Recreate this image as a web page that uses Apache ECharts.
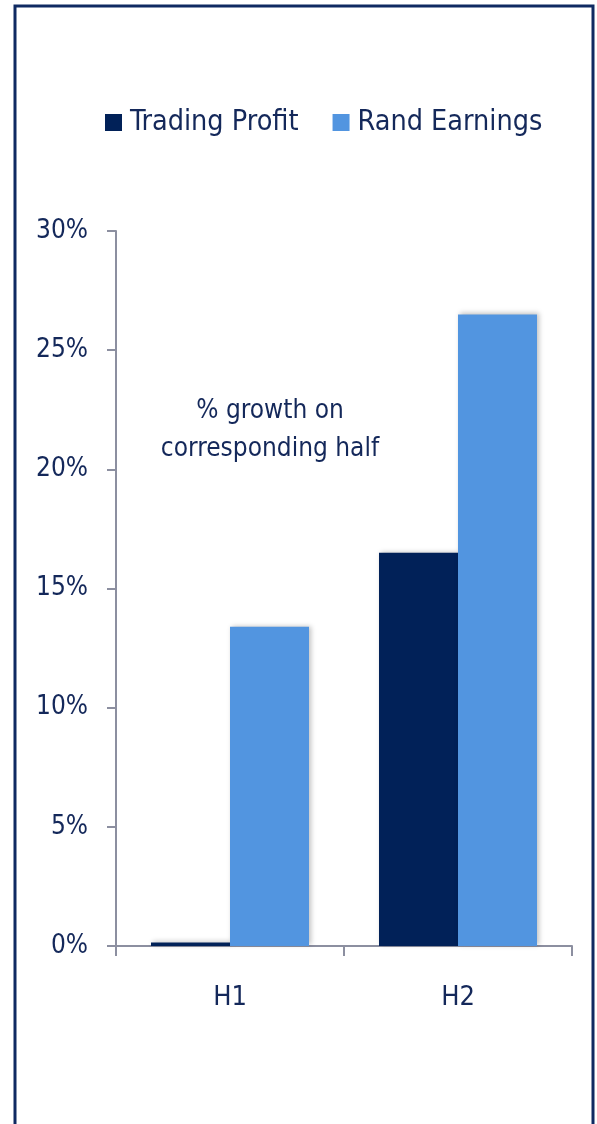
<!DOCTYPE html>
<html>
<head>
<meta charset="utf-8">
<script src="https://cdn.jsdelivr.net/npm/echarts@6/dist/echarts.min.js"></script>
<style>
  html, body { margin: 0; padding: 0; background: #fff; }
  #chart { width: 597px; height: 1124px; }
</style>
</head>
<body>
<div id="chart"></div>
<script>
const categories = ['H1', 'H2'];
const tradingProfit = [0.15, 16.5];
const randEarnings = [13.4, 26.5];
const yTicks = [0, 5, 10, 15, 20, 25, 30];

const navy = '#14285a';
const font = '"DejaVu Sans Condensed", "Liberation Sans Narrow", sans-serif';

const myChart = echarts.init(document.getElementById('chart'));
const barShadow = {
  shadowBlur: 5,
  shadowColor: 'rgba(0, 0, 0, 0.25)',
  shadowOffsetX: 2,
  shadowOffsetY: -1
};

const option = {
  backgroundColor: '#fff',
  textStyle: {fontFamily: font, color: navy},
  graphic: [{
    type: 'rect',
    shape: {x: 15, y: 6, width: 578, height: 1140},
    style: {fill: 'none', stroke: '#0f2a62', lineWidth: 3},
    silent: true
  }, {
    type: 'text',
    x: 270,
    y: 392,
    style: {
      text: '% growth on\ncorresponding half',
      fill: navy,
      font: '26px ' + font,
      align: 'center',
      lineHeight: 38
    }
  }],
  legend: {
    left: 100,
    top: 103,
    itemWidth: 17,
    itemHeight: 17,
    itemGap: 34,
    icon: 'rect',
    textStyle: {fontSize: 28.5, color: navy, fontFamily: font, padding: [0, 0, 0, 3]}
  },
  grid: {left: 116, right: 25, top: 231, bottom: 178},
  xAxis: {
    type: 'category',
    data: categories,
    axisLine: {lineStyle: {color: '#8c8fa0', width: 2}},
    axisTick: {show: true, length: 10, lineStyle: {color: '#8c8fa0', width: 2}},
    axisLabel: {fontSize: 27, color: navy, margin: 38, fontFamily: font}
  },
  yAxis: {
    type: 'value',
    min: 0,
    max: 30,
    interval: 5,
    splitLine: {show: false},
    axisLine: {show: true, lineStyle: {color: '#8c8fa0', width: 2}},
    axisTick: {show: true, length: 9, inside: false, lineStyle: {color: '#8c8fa0', width: 2}},
    axisLabel: {
      fontSize: 26,
      color: navy,
      margin: 28,
      fontFamily: font,
      formatter: (v) => yTicks.includes(v) ? v + '%' : ''
    }
  },
  series: [{
    name: 'Trading Profit',
    type: 'bar',
    data: tradingProfit,
    barWidth: 79,
    barGap: '0%',
    itemStyle: Object.assign({color: '#012158'}, barShadow)
  }, {
    name: 'Rand Earnings',
    type: 'bar',
    data: randEarnings,
    barWidth: 79,
    barGap: '0%',
    itemStyle: Object.assign({color: '#5295e0'}, barShadow)
  }]
};

myChart.setOption(option);
</script>
</body>
</html>
